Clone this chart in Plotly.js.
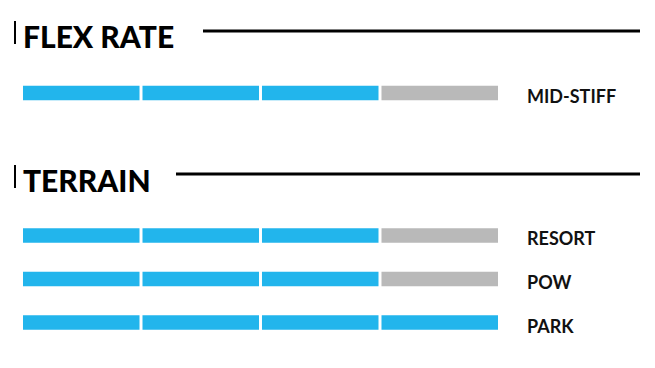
<!DOCTYPE html>
<html>
<head>
<meta charset="utf-8">
<script src="https://cdn.plot.ly/plotly-3.0.1.min.js"></script>
<style>
  html, body { margin: 0; padding: 0; background: #fff; }
  #chart { width: 655px; height: 368px; }
</style>
</head>
<body>
<div id="chart"></div>
<script>
// Rating scale: every row is drawn as 4 segments, filled up to its score
const SCALE_MAX = 4;

// Flex section
const flexLabels = ['MID-STIFF'];
const flexScores = [3];

// Terrain section
const terrainLabels = ['RESORT', 'POW', 'PARK'];
const terrainScores = [3, 3, 4];

const sectionTitles = ['FLEX RATE', 'TERRAIN'];

const FILLED = '#22b5ec';
const EMPTY = '#b9b9b9';
const GAP = 0.025;           // white gap between segments, in scale units
const BAR_W = 0.335;

const W = 655, H = 368;
const px = v => v / W;
const py = v => 1 - v / H;

function segmentTraces(labels, scores, xa, ya) {
  const out = [];
  for (let s = 0; s < SCALE_MAX; s++) {
    out.push({
      type: 'bar',
      orientation: 'h',
      y: labels,
      x: labels.map(() => 1 - GAP),
      base: labels.map(() => s),
      width: BAR_W,
      marker: { color: scores.map(v => (s < v ? FILLED : EMPTY)) },
      hoverinfo: 'skip',
      xaxis: xa,
      yaxis: ya,
      showlegend: false
    });
  }
  return out;
}

const traces = [
  ...segmentTraces(flexLabels, flexScores, 'x', 'y'),
  ...segmentTraces(terrainLabels, terrainScores, 'x2', 'y2')
];

// row names written to the right of each bar
function rowLabels(labels, yref) {
  return labels.map(t => ({
    text: t, xref: 'paper', yref: yref, x: px(525), y: t,
    xanchor: 'left', yanchor: 'middle', yshift: -3, showarrow: false,
    font: { family: 'Lato, sans-serif', size: 18, color: '#111', weight: 700 }
  }));
}

const xCommon = {
  range: [0, SCALE_MAX - GAP],
  domain: [px(23), px(498)],
  showgrid: false, zeroline: false, showticklabels: false, showline: false, fixedrange: true
};
const yCommon = {
  type: 'category',
  autorange: false,
  showgrid: false, zeroline: false, showline: false, ticks: '', showticklabels: false,
  fixedrange: true
};

const titleFont = { family: 'Lato, sans-serif', size: 30, weight: 900, color: '#000' };

const layout = {
  width: W, height: H,
  margin: { l: 0, r: 0, t: 0, b: 0 },
  paper_bgcolor: '#fff', plot_bgcolor: '#fff',
  barmode: 'overlay',
  xaxis: { ...xCommon, anchor: 'y' },
  xaxis2: { ...xCommon, anchor: 'y2' },
  yaxis: { ...yCommon, anchor: 'x', range: [0.5, -0.5], domain: [py(114.75), py(71.25)] },
  yaxis2: { ...yCommon, anchor: 'x2', range: [2.5, -0.5], domain: [py(344.25), py(213.75)] },
  annotations: [
    { text: sectionTitles[0], xref: 'paper', yref: 'paper', x: px(21), y: py(36), xanchor: 'left', yanchor: 'middle',
      showarrow: false, font: titleFont },
    { text: sectionTitles[1], xref: 'paper', yref: 'paper', x: px(21), y: py(180), xanchor: 'left', yanchor: 'middle',
      showarrow: false, font: titleFont },
    ...rowLabels(flexLabels, 'y'),
    ...rowLabels(terrainLabels, 'y2')
  ],
  shapes: [
    // section rules and their small leading ticks
    { type: 'line', xref: 'paper', yref: 'paper', x0: px(203), x1: px(640), y0: py(31), y1: py(31), line: { color: '#000', width: 3 } },
    { type: 'line', xref: 'paper', yref: 'paper', x0: px(15), x1: px(15), y0: py(21), y1: py(44), line: { color: '#000', width: 2 } },
    { type: 'line', xref: 'paper', yref: 'paper', x0: px(176), x1: px(640), y0: py(174), y1: py(174), line: { color: '#000', width: 3 } },
    { type: 'line', xref: 'paper', yref: 'paper', x0: px(15), x1: px(15), y0: py(165), y1: py(188), line: { color: '#000', width: 2 } }
  ]
};

Plotly.newPlot('chart', traces, layout, { displayModeBar: false, staticPlot: true });
</script>
</body>
</html>
